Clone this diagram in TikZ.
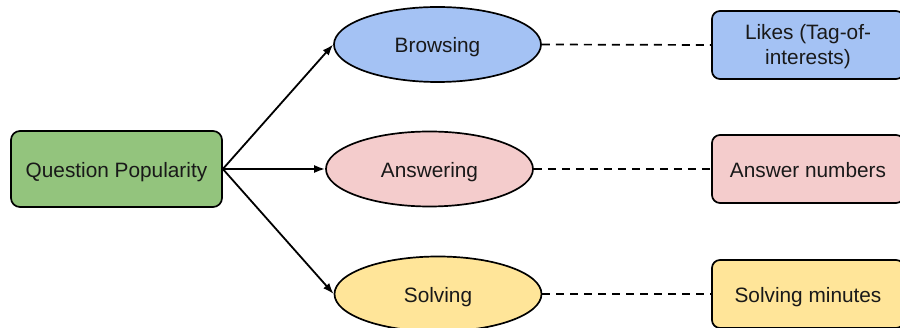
\documentclass[tikz,border=0pt]{standalone}
\usepackage{fontspec}
\setmainfont{Liberation Sans}
\usetikzlibrary{arrows.meta,shapes.geometric}
\definecolor{qgreen}{HTML}{93C47D}
\definecolor{qblue}{HTML}{A4C2F4}
\definecolor{qpink}{HTML}{F4CCCC}
\definecolor{qyellow}{HTML}{FFE599}
\tikzset{
  every node/.style={font=\fontsize{20.8}{25}\selectfont, text=black!90, text height=18pt, text depth=1pt},
  rootbox/.style={draw, line width=1.7pt, rounded corners=9pt, minimum width=211pt, minimum height=76pt},
  oval/.style={draw, ellipse, line width=1.7pt, minimum width=207pt, minimum height=75pt, inner sep=0pt},
  metric/.style={draw, line width=1.7pt, rounded corners=8pt, minimum width=192pt, minimum height=68pt, align=center, inner sep=2pt},
  link/.style={line width=1.8pt, -{Latex[length=11pt,width=8pt]}},
  tie/.style={line width=1.7pt, dash pattern=on 8pt off 6pt}
}
\begin{document}
\begin{tikzpicture}[x=1pt,y=-1pt]
\useasboundingbox (0,0) rectangle (900,328);
\clip (0,0) rectangle (900,328);
\node[rootbox, fill=qgreen] (root) at (116.5,169) {Question Popularity};
\node[oval, fill=qblue] (browse) at (437.5,44.5) {Browsing};
\node[oval, fill=qpink] (answer) at (429.5,169) {Answering};
\node[oval, fill=qyellow] (solve) at (438,294) {Solving};
% two-line label: box baseline sits on the last line
\node[metric, fill=qblue, text height=42pt, text depth=2pt] (likes) at (808,45) {Likes (Tag-of-\\interests)};
\node[metric, fill=qpink] (anum) at (808,169) {Answer numbers};
\node[metric, fill=qyellow] (smin) at (808,294) {Solving minutes};
\draw[link] (root.east) -- (browse.west);
\draw[link] (root.east) -- (answer.west);
\draw[link] (root.east) -- (solve.west);
\draw[tie] (browse.east) -- (likes.west);
\draw[tie] (answer.east) -- (anum.west);
\draw[tie] (solve.east) -- (smin.west);
\end{tikzpicture}
\end{document}
